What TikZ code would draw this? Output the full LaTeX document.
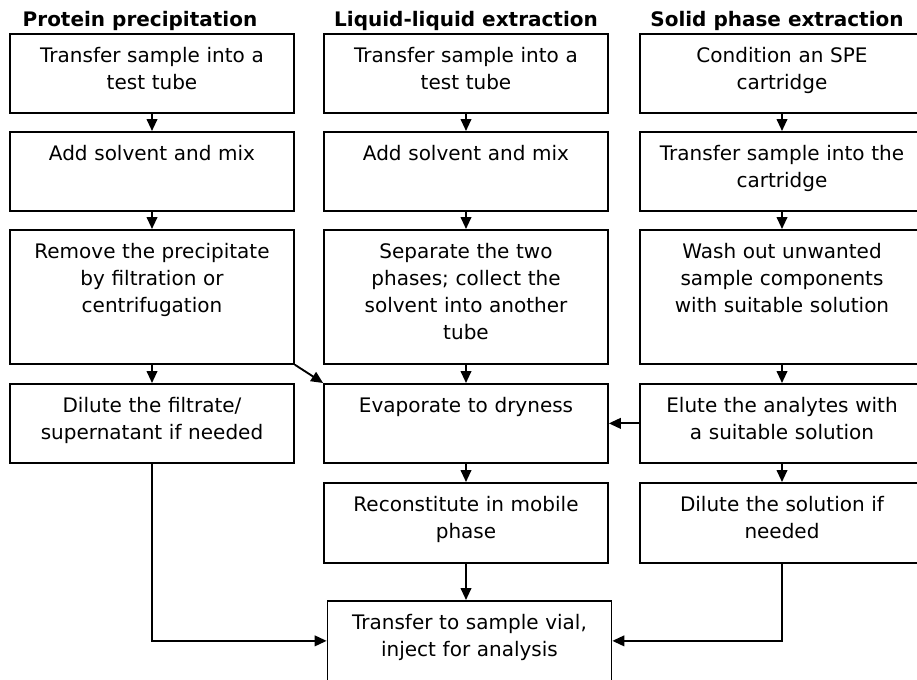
\documentclass[tikz,border=0pt]{standalone}
\usepackage{fontspec}
\setmainfont{DejaVu Sans}
\usetikzlibrary{arrows.meta}

\begin{document}
\begin{tikzpicture}[x=0.75pt,y=-0.75pt,
	every path/.style={line width=1.4pt},
	stage/.style={draw, line width=1.3pt, inner sep=0pt, anchor=north,
		text width=213pt, align=center, text height=21.75pt, text depth=37.5pt,
		font=\fontsize{15}{20.25}\selectfont},
	tall/.style={text depth=78.75pt},
	head/.style={anchor=base, font=\fontsize{15}{18}\selectfont\bfseries},
	flow/.style={-{Triangle[length=9pt,width=8pt]}}]
	\useasboundingbox (0,0) rectangle (917,679);

	\node[head] (hp) at (140,26) {Protein precipitation};
	\node[head] (hl) at (466,26) {Liquid-liquid extraction};
	\node[head] (hs) at (777,26) {Solid phase extraction};

	\node[stage] (p1) at (152,33) {Transfer sample into a\\test tube};
	\node[stage] (p2) at (152,131) {Add solvent and mix};
	\node[stage, tall] (p3) at (152,229) {Remove the precipitate\\by filtration or\\centrifugation};
	\node[stage] (p4) at (152,383) {Dilute the filtrate/\\supernatant if needed};

	\node[stage] (l1) at (466,33) {Transfer sample into a\\test tube};
	\node[stage] (l2) at (466,131) {Add solvent and mix};
	\node[stage, tall] (l3) at (466,229) {Separate the two\\phases; collect the\\solvent into another\\tube};
	\node[stage] (l4) at (466,383) {Evaporate to dryness};
	\node[stage, text depth=38.25pt] (l5) at (466,482) {Reconstitute in mobile\\phase};

	\node[stage] (s1) at (782,33) {Condition an SPE\\cartridge};
	\node[stage] (s2) at (782,131) {Transfer sample into the\\cartridge};
	\node[stage, tall] (s3) at (782,229) {Wash out unwanted\\sample components\\with suitable solution};
	\node[stage] (s4) at (782,383) {Elute the analytes with\\a suitable solution};
	\node[stage, text depth=38.25pt] (s5) at (782,482) {Dilute the solution if\\needed};

	\node[stage, text depth=38.25pt] (t) at (469.5,600) {Transfer to sample vial,\\inject for analysis};

	\path [flow] (p1) edge (p2);
	\path [flow] (p2) edge (p3);
	\path [flow] (p3) edge (p4);
	\path [flow] (p3.south east) edge (l4.north west);

	\path [flow] (l1) edge (l2);
	\path [flow] (l2) edge (l3);
	\path [flow] (l3) edge (l4);
	\path [flow] (l4) edge (l5);
	\path [flow] (l5.south) edge (l5.south |- t.north);

	\path [flow] (s1) edge (s2);
	\path [flow] (s2) edge (s3);
	\path [flow] (s3) edge (s4);
	\path [flow] (s4) edge (s5);
	\path [flow] (s4) edge (l4);

	\draw [flow] (p4.south) |- (t.west);
	\draw [flow] (s5.south) |- (t.east);
\end{tikzpicture}
\end{document}
